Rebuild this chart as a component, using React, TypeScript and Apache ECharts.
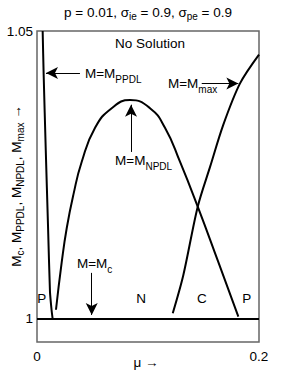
import React, { useEffect, useRef } from "react";
import * as echarts from "echarts";

const FONT = "'Liberation Sans', Arial, Helvetica, sans-serif";

// Curves (mu, M)
const muPPDL = [0.0051, 0.006, 0.0079, 0.0099, 0.0117, 0.0131, 0.0141];
const mPPDL = [1.05, 1.0424, 1.0293, 1.0163, 1.0047, 1.0016, 1.0];

const muNPDL = [0.0171, 0.0223, 0.0268, 0.0327, 0.0403, 0.0523, 0.0673, 0.0838, 0.1018, 0.1153, 0.1288, 0.1448, 0.1633, 0.1814];
const mNPDL = [1.0016, 1.0099, 1.0158, 1.0215, 1.0273, 1.0332, 1.0366, 1.038, 1.0366, 1.0332, 1.0273, 1.0195, 1.0099, 1.0004];

const muMax = [0.1223, 0.1318, 0.1448, 0.1559, 0.1678, 0.1829, 0.2];
const mMax = [1.001, 1.0076, 1.0195, 1.0264, 1.0337, 1.0409, 1.0459];

const muC = [0, 0.2];
const mC = [1, 1];

const xTicks = [0, 0.2];
const yTicks = [1, 1.05];

const titleText = "{m|p = 0.01, σ}{s|ie}{m| = 0.9, σ}{s|pe}{m| = 0.9}";
const xName = "μ →";
const yName = "{m|M}{s|c}{m|, M}{s|PPDL}{m|, M}{s|NPDL}{m|, M}{s|max}{m| →}";

// Arrows: [x1, y1, x2(tip), y2(tip)]
const arrows = [
  [0.0387, 1.0427, 0.0081, 1.0427],
  [0.0847, 1.029, 0.0847, 1.0372],
  [0.1484, 1.0409, 0.1814, 1.0409],
  [0.0493, 1.008, 0.0493, 1.0007],
];

// Text labels: [x, y, text, align]
const labels: [number, number, string, string][] = [
  [0.1018, 1.0479, "No Solution", "center"],
  [0.0432, 1.0427, "{m|M=M}{s|PPDL}", "left"],
  [0.0703, 1.0276, "{m|M=M}{s|NPDL}", "left"],
  [0.118, 1.0409, "{m|M=M}{s|max}", "left"],
  [0.036, 1.0097, "{m|M=M}{s|c}", "left"],
  [0.0042, 1.0036, "P", "center"],
  [0.0937, 1.0036, "N", "center"],
  [0.1486, 1.0036, "C", "center"],
  [0.1889, 1.0036, "P", "center"],
];

const richSub = {
  m: { fontSize: 13.5, lineHeight: 22, fontFamily: FONT, color: "#000" },
  s: { fontSize: 10, lineHeight: 8, verticalAlign: "bottom", fontFamily: FONT, color: "#000" },
};
const richFill = {
  m: { fontSize: 13.5, lineHeight: 18, fontFamily: FONT, fill: "#000" },
  s: { fontSize: 10, lineHeight: 8, verticalAlign: "bottom", fontFamily: FONT, fill: "#000" },
};

export default function App() {
  const ref = useRef<HTMLDivElement>(null);
  useEffect(() => {
    if (!ref.current) return;
    const chart = echarts.init(ref.current, null, { renderer: "svg" });
    const lineStyle = { color: "#000", width: 2 };
    const mk = (mu: number[], m: number[]) => mu.map((v, i) => [v, m[i]]);
    chart.setOption({
      animation: false,
      textStyle: { fontFamily: FONT },
      grid: {
        left: 37, right: 26, top: 31, bottom: 43,
        containLabel: false, outerBoundsMode: "none",
        show: true, borderColor: "#666", borderWidth: 1.5, backgroundColor: "transparent",
      },
      graphic: [
        {
          type: "text", x: 148, y: 12,
          style: { text: titleText, align: "center", verticalAlign: "middle", rich: richFill },
        },
        {
          type: "text", x: 146, y: 362,
          style: { text: xName, align: "center", verticalAlign: "middle", fontSize: 13.5, fontFamily: FONT, fill: "#000" },
        },
        {
          type: "text", x: 16, y: 186, rotation: Math.PI / 2,
          style: { text: yName, align: "center", verticalAlign: "middle", rich: richFill },
        },
      ],
      xAxis: {
        type: "value", min: 0, max: 0.2,
        axisLine: { show: false },
        axisTick: { show: false },
        splitLine: { show: false },
        axisLabel: {
          customValues: xTicks, fontSize: 13.5, color: "#000", margin: 7, fontFamily: FONT,
          formatter: (v: number) => (v === 0 ? "0" : String(v)),
        },
      },
      yAxis: {
        type: "value", min: 0.996, max: 1.05,
        axisLine: { show: false },
        axisTick: { show: false },
        splitLine: { show: false },
        axisLabel: {
          customValues: yTicks, fontSize: 13.5, color: "#000", margin: 4, fontFamily: FONT,
          formatter: (v: number) => (Math.abs(v - 1) < 1e-9 ? "1" : String(v)),
        },
      },
      series: [
        {
          type: "line", data: mk(muC, mC), symbol: "none", lineStyle, silent: true,
          markLine: {
            silent: true, symbolSize: [9, 12], precision: 6,
            lineStyle: { color: "#000", width: 1, type: "solid" },
            label: { show: false },
            data: arrows.map((a) => [
              { coord: [a[0], a[1]], symbol: "none" },
              { coord: [a[2], a[3]], symbol: "arrow" },
            ]),
          },
          markPoint: {
            silent: true,
            symbol: "circle", symbolSize: 0,
            data: labels.map((l) => ({
              coord: [l[0], l[1]],
              label: {
                show: true, position: [0, 0], align: l[3], verticalAlign: "middle",
                formatter: l[2], fontSize: 13.5, color: "#000", fontFamily: FONT, rich: richSub,
              },
            })),
          },
        },
        { type: "line", data: mk(muPPDL, mPPDL), symbol: "none", lineStyle, smooth: 0.2, silent: true },
        { type: "line", data: mk(muNPDL, mNPDL), symbol: "none", lineStyle, smooth: 0.5, silent: true },
        { type: "line", data: mk(muMax, mMax), symbol: "none", lineStyle, smooth: 0.3, silent: true },
      ],
    });
    return () => chart.dispose();
  }, []);
  return <div ref={ref} style={{ position: "fixed", left: 0, top: 0, width: 285, height: 385, background: "#fff" }} />;
}
